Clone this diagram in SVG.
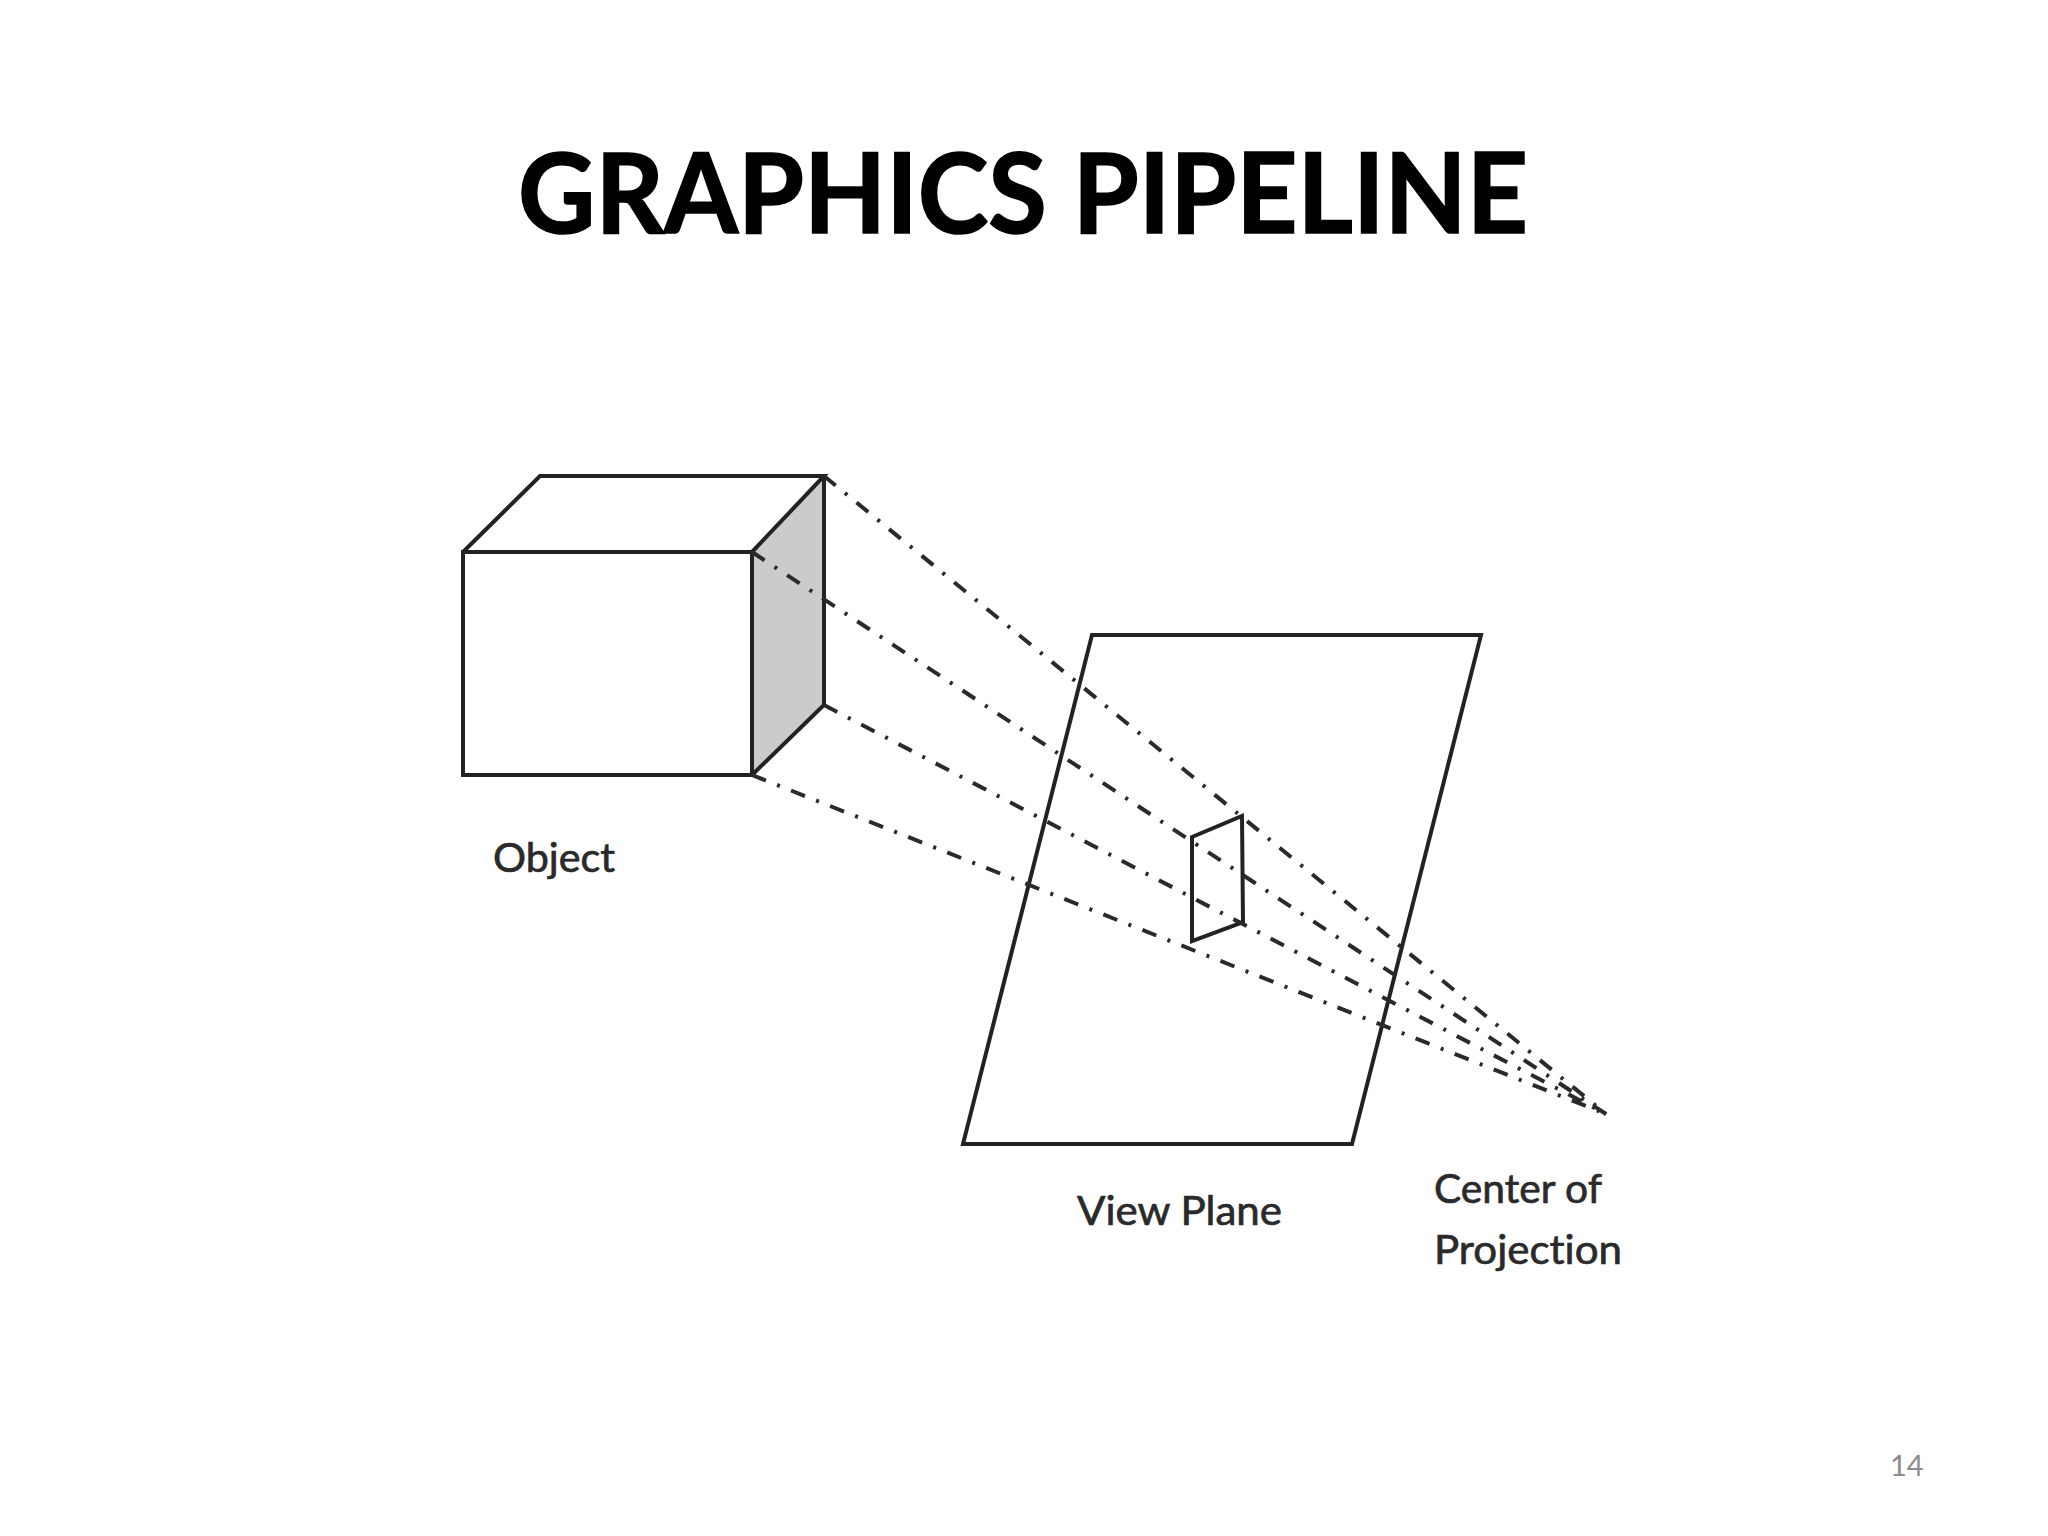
<svg xmlns="http://www.w3.org/2000/svg" width="2048" height="1536" viewBox="0 0 2048 1536">
<style>
text{font-family:Lato,"Open Sans","Liberation Sans",sans-serif;font-variant-ligatures:none}
.title{font-size:112px;font-weight:700;fill:#000;stroke:#000;stroke-width:1.6;font-kerning:none}
.label{font-size:41px;fill:#2a2a2a;stroke:#2a2a2a;stroke-width:.7}
.num{font-size:29px;fill:#8a8a8a}
.edge{fill:none;stroke:#222;stroke-width:4;stroke-linejoin:miter}
.ray{fill:none;stroke:#2a2a2a;stroke-width:4;stroke-dasharray:15 12 3 12}
</style>
<rect width="2048" height="1536" fill="#fff"/>
<text class="title" x="1023" y="233" text-anchor="middle" textLength="1010" lengthAdjust="spacingAndGlyphs">GRAPHICS PIPELINE</text>
<g id="object">
<polygon points="752,552 824,476 824,705 752,775" fill="#cbcbcb"/>
<path class="edge" d="M463,552H752V775H463ZM463,552L540,476H824L752,552M824,476V705L752,775"/>
</g>
<g id="view-plane">
<polygon class="edge" points="1092,635 1481,635 1352,1144 963,1144"/>
</g>
<g id="projected-image">
<polygon class="edge" points="1192,837 1242,816 1243,922 1192,941"/>
</g>
<g id="connectors">
<path class="ray" d="M824,476L1606,1114"/>
<path class="ray" d="M752,552L1606,1114"/>
<path class="ray" d="M824,705L1606,1114"/>
<path class="ray" d="M752,775L1606,1114"/>
</g>
<g id="labels">
<text class="label" x="493" y="872" textLength="122" lengthAdjust="spacingAndGlyphs">Object</text>
<text class="label" x="1077" y="1225" textLength="205" lengthAdjust="spacingAndGlyphs">View Plane</text>
<text class="label" x="1434" y="1203" textLength="168" lengthAdjust="spacingAndGlyphs">Center of</text>
<text class="label" x="1434" y="1264" textLength="188" lengthAdjust="spacingAndGlyphs">Projection</text>
</g>
<text class="num" x="1890" y="1476">14</text>
</svg>
